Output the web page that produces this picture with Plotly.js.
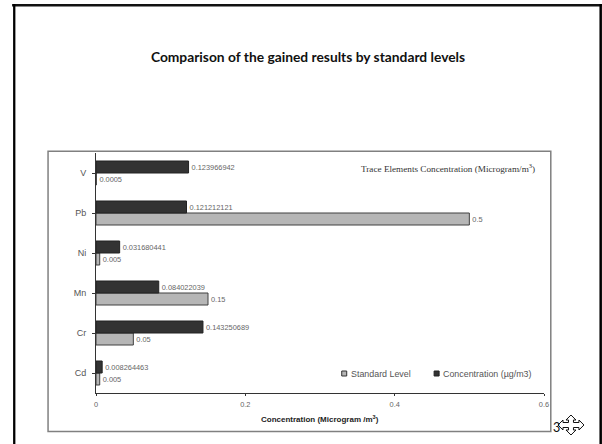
<!DOCTYPE html>
<html>
<head>
<meta charset="utf-8">
<script src="https://cdn.plot.ly/plotly-3.0.1.min.js"></script>
<style>html,body{margin:0;padding:0;background:#fff}#chart{width:602px;height:444px}</style>
</head>
<body>
<div id="chart"></div>
<script>
const elements = ["Cd", "Cr", "Mn", "Ni", "Pb", "V"];
const standardLevel = [0.005, 0.05, 0.15, 0.005, 0.5, 0.0005];
const concentration = [0.008264463, 0.143250689, 0.084022039, 0.031680441, 0.121212121, 0.123966942];
const standardLabels = ["0.005", "0.05", "0.15", "0.005", "0.5", "0.0005"];
const concentrationLabels = ["0.008264463", "0.143250689", "0.084022039", "0.031680441", "0.121212121", "0.123966942"];
const xTicks = [0, 0.2, 0.4, 0.6];
const xTickLabels = ["0", "0.2", "0.4", "0.6"];
const seriesNames = ["Standard Level", "Concentration (µg/m3)"];

const W = 602, H = 444;
const PLOT = {left: 95.5, right: 544, top: 153, bottom: 393};
// Page pixels to paper fractions, which are measured across the plot area
const px = v => (v - PLOT.left) / (PLOT.right - PLOT.left);
const py = v => (PLOT.bottom - v) / (PLOT.bottom - PLOT.top);
const SANS = "Liberation Sans, Arial, sans-serif";
const labelFont = {family: SANS, size: 7.4, color: "#666"};

const traces = [
  {
    type: "bar", orientation: "h", name: seriesNames[0],
    y: elements, x: standardLevel, text: standardLabels,
    textposition: "outside", cliponaxis: false, textfont: labelFont,
    marker: {color: "#b6b6b6", line: {color: "#404040", width: 1}}
  },
  {
    type: "bar", orientation: "h", name: seriesNames[1],
    y: elements, x: concentration, text: concentrationLabels,
    textposition: "outside", cliponaxis: false, textfont: labelFont,
    marker: {color: "#333333", line: {color: "#222", width: 1}}
  }
];

// Rectangle in pixel coordinates of the page
const pixelRect = (x0, y0, x1, y1, style) => Object.assign(
  {type: "rect", xref: "paper", yref: "paper", layer: "below",
   x0: px(x0), x1: px(x1), y0: py(y1), y1: py(y0)}, style);

// Four-way move cursor outline, centred on (cx, cy)
const cursorOutline = [[0,-10],[5,-5],[2.5,-5],[2.5,-2.5],[8,-2.5],[8,-5],[13,0],[8,5],[8,2.5],[2.5,2.5],
  [2.5,5],[5,5],[0,10],[-5,5],[-2.5,5],[-2.5,2.5],[-8,2.5],[-8,5],[-13,0],[-8,-5],[-8,-2.5],[-2.5,-2.5],[-2.5,-5],[-5,-5]];
const cursorPath = (cx, cy) => "M" + cursorOutline
  .map(([a, b]) => px(cx + a) + "," + py(cy + b)).join("L") + "Z";

const solid = c => ({fillcolor: c, line: {width: 0}});
const pageNote = (text, x, y, xanchor, font) => ({
  text, xref: "paper", yref: "paper", x: px(x), y: py(y), xanchor, yanchor: "middle", showarrow: false, font
});

const layout = {
  width: W, height: H,
  paper_bgcolor: "#fff", plot_bgcolor: "rgba(0,0,0,0)",
  margin: {l: PLOT.left, r: W - PLOT.right, t: PLOT.top, b: H - PLOT.bottom, pad: 0},
  barmode: "group", bargap: 0.4, bargroupgap: 0,
  showlegend: false,
  title: {
    text: "<b>Comparison of the gained results by standard levels</b>",
    x: 308 / W, xref: "container", xanchor: "center", y: 1 - 57 / H, yref: "container", yanchor: "middle",
    font: {family: "Lato, Carlito, sans-serif", size: 13.8, color: "#111"}
  },
  xaxis: {
    range: [0, 0.6], tickvals: xTicks, ticktext: xTickLabels,
    ticks: "outside", ticklen: 2, tickcolor: "#333", showgrid: false, zeroline: false,
    showline: true, linecolor: "#333", linewidth: 1,
    tickfont: {family: SANS, size: 7.4, color: "#666"}, ticklabelstandoff: 2,
    automargin: false
  },
  yaxis: {
    type: "category", categoryorder: "array", categoryarray: elements,
    ticks: "outside", ticklen: 3, tickcolor: "#333", showgrid: false, zeroline: false,
    showline: true, linecolor: "#333", linewidth: 1,
    tickfont: {family: SANS, size: 9, color: "#555"}, ticklabelstandoff: 4,
    automargin: false
  },
  shapes: [
    // slide border: top, left and right edges
    pixelRect(11.5, 4, 602, 6.5, solid("#111")),
    pixelRect(12.5, 4, 14.8, 444, solid("#000")),
    pixelRect(599.5, 4, 602, 444, solid("#000")),
    // chart frame
    {type: "rect", xref: "paper", yref: "paper", layer: "below",
     x0: px(47.5), x1: px(550.8), y0: py(431.5), y1: py(151.2),
     fillcolor: "#fff", line: {color: "#808080", width: 1.5}},
    // legend swatches
    pixelRect(341.5, 371, 346.5, 376, {fillcolor: "#b6b6b6", line: {color: "#333", width: 1}}),
    pixelRect(434, 371, 439, 376, {fillcolor: "#333", line: {color: "#222", width: 1}}),
    // move cursor
    {type: "path", xref: "paper", yref: "paper", layer: "above",
     path: cursorPath(571, 425), fillcolor: "#fff", line: {color: "#111", width: 1}}
  ],
  annotations: [
    pageNote("Trace Elements Concentration (Microgram/m<sup>3</sup>)", 447.5, 168, "center",
      {family: "Liberation Serif, Times New Roman, serif", size: 9.2, color: "#333"}),
    pageNote("<b>Concentration (Microgram /m<sup>3</sup>)</b>", 320, 418.5, "center",
      {family: SANS, size: 8, color: "#222"}),
    pageNote(seriesNames[0], 348.5, 373.5, "left", {family: SANS, size: 8.9, color: "#555"}),
    pageNote(seriesNames[1], 441, 373.5, "left", {family: SANS, size: 8.9, color: "#555"}),
    pageNote("3", 557, 427, "center", {family: "Lato, Carlito, sans-serif", size: 12.5, color: "#111"})
  ]
};

Plotly.newPlot("chart", traces, layout, {displayModeBar: false, staticPlot: true});
</script>
</body>
</html>
